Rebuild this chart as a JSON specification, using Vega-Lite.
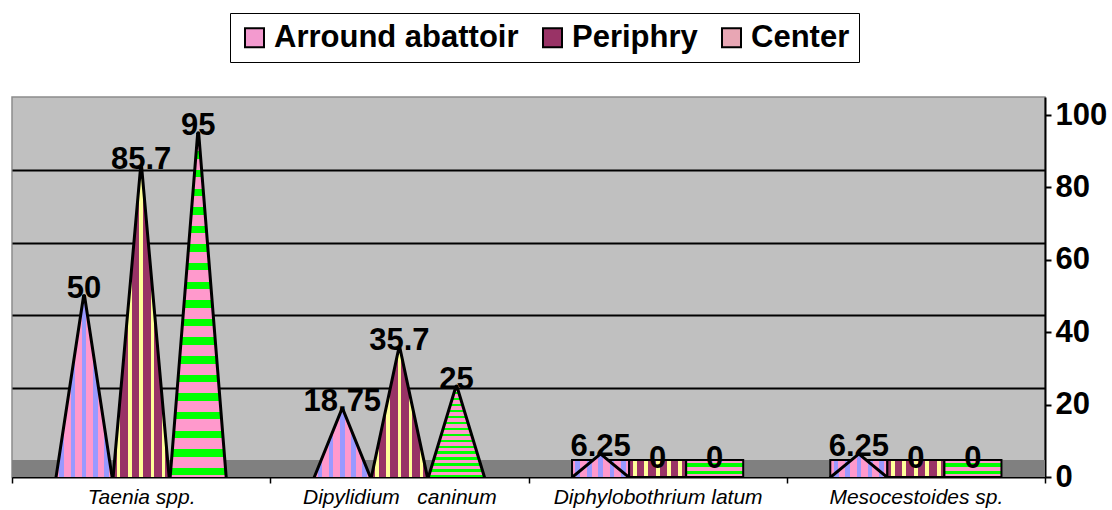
{
  "$schema": "https://vega.github.io/schema/vega-lite/v6.json",
  "width": 1033,
  "height": 380,
  "autosize": "none",
  "padding": {"left": 12, "top": 97, "right": 67, "bottom": 33},
  "background": "white",
  "config": {
    "font": "Liberation Sans",
    "view": {"fill": "#C0C0C0", "stroke": "#8C8C8C", "strokeWidth": 1.5}
  },
  "data": {
    "values": [
      {"parasite": "Taenia spp.", "zone": "Arround abattoir", "pct": 50, "base": 0},
      {"parasite": "Taenia spp.", "zone": "Periphry", "pct": 85.7, "base": 0},
      {"parasite": "Taenia spp.", "zone": "Center", "pct": 95, "base": 0},
      {"parasite": "Dipylidium\u00a0\u00a0\u00a0caninum", "zone": "Arround abattoir", "pct": 18.75, "base": 0},
      {"parasite": "Dipylidium\u00a0\u00a0\u00a0caninum", "zone": "Periphry", "pct": 35.7, "base": 0},
      {"parasite": "Dipylidium\u00a0\u00a0\u00a0caninum", "zone": "Center", "pct": 25, "base": 0},
      {"parasite": "Diphylobothrium latum", "zone": "Arround abattoir", "pct": 6.25, "base": 0},
      {"parasite": "Diphylobothrium latum", "zone": "Periphry", "pct": 0, "base": 0},
      {"parasite": "Diphylobothrium latum", "zone": "Center", "pct": 0, "base": 0},
      {"parasite": "Mesocestoides sp.", "zone": "Arround abattoir", "pct": 6.25, "base": 0},
      {"parasite": "Mesocestoides sp.", "zone": "Periphry", "pct": 0, "base": 0},
      {"parasite": "Mesocestoides sp.", "zone": "Center", "pct": 0, "base": 0}
    ]
  },
  "resolve": {"axis": {"y": "independent"}},
  "layer": [
    {
      "mark": {"type": "rect", "fill": "#808080"},
      "encoding": {
        "y": {
          "datum": 0, "type": "quantitative",
          "scale": {"domain": [0, 105], "nice": false},
          "axis": {"orient": "left", "grid": true, "gridColor": "black", "gridWidth": 2, "values": [20, 40, 60, 80], "labels": false, "ticks": false, "domain": false, "tickOffset": -17, "title": null}
        },
        "y2": {"datum": 4.7}
      }
    },
    {
      "transform": [{"filter": "datum.zone == 'Arround abattoir' && datum.pct < 10"}],
      "mark": {"type": "bar", "stroke": "black", "strokeWidth": 2,
        "fill": {"gradient": "linear", "x1": 0, "y1": 0, "x2": 1, "y2": 0, "stops": [
          {"offset": 0, "color": "#FF99CC"}, {"offset": 0.06, "color": "#FF99CC"}, {"offset": 0.06, "color": "#9999FF"}, {"offset": 0.14, "color": "#9999FF"},
          {"offset": 0.14, "color": "#FF99CC"}, {"offset": 0.26, "color": "#FF99CC"}, {"offset": 0.26, "color": "#9999FF"}, {"offset": 0.34, "color": "#9999FF"},
          {"offset": 0.34, "color": "#FF99CC"}, {"offset": 0.46, "color": "#FF99CC"}, {"offset": 0.46, "color": "#9999FF"}, {"offset": 0.54, "color": "#9999FF"},
          {"offset": 0.54, "color": "#FF99CC"}, {"offset": 0.66, "color": "#FF99CC"}, {"offset": 0.66, "color": "#9999FF"}, {"offset": 0.74, "color": "#9999FF"},
          {"offset": 0.74, "color": "#FF99CC"}, {"offset": 0.86, "color": "#FF99CC"}, {"offset": 0.86, "color": "#9999FF"}, {"offset": 0.94, "color": "#9999FF"},
          {"offset": 0.94, "color": "#FF99CC"}, {"offset": 1, "color": "#FF99CC"}]}},
      "encoding": {
        "x": {"field": "parasite", "type": "nominal"},
        "xOffset": {"field": "zone", "type": "nominal"},
        "y": {"datum": 0, "type": "quantitative", "axis": null},
        "y2": {"datum": 4.7}
      }
    },
    {
      "transform": [{"filter": "datum.zone == 'Periphry' && datum.pct < 10"}],
      "mark": {"type": "bar", "stroke": "black", "strokeWidth": 2,
        "fill": {"gradient": "linear", "x1": 0, "y1": 0, "x2": 1, "y2": 0, "stops": [
          {"offset": 0, "color": "#993366"}, {"offset": 0.065, "color": "#993366"}, {"offset": 0.065, "color": "#FFFF99"}, {"offset": 0.135, "color": "#FFFF99"},
          {"offset": 0.135, "color": "#993366"}, {"offset": 0.265, "color": "#993366"}, {"offset": 0.265, "color": "#FFFF99"}, {"offset": 0.335, "color": "#FFFF99"},
          {"offset": 0.335, "color": "#993366"}, {"offset": 0.465, "color": "#993366"}, {"offset": 0.465, "color": "#FFFF99"}, {"offset": 0.535, "color": "#FFFF99"},
          {"offset": 0.535, "color": "#993366"}, {"offset": 0.665, "color": "#993366"}, {"offset": 0.665, "color": "#FFFF99"}, {"offset": 0.735, "color": "#FFFF99"},
          {"offset": 0.735, "color": "#993366"}, {"offset": 0.865, "color": "#993366"}, {"offset": 0.865, "color": "#FFFF99"}, {"offset": 0.935, "color": "#FFFF99"},
          {"offset": 0.935, "color": "#993366"}, {"offset": 1, "color": "#993366"}]}},
      "encoding": {
        "x": {"field": "parasite", "type": "nominal"},
        "xOffset": {"field": "zone", "type": "nominal"},
        "y": {"datum": 0, "type": "quantitative", "axis": null},
        "y2": {"datum": 4.7}
      }
    },
    {
      "transform": [{"filter": "datum.zone == 'Center' && datum.pct < 10"}],
      "mark": {"type": "bar", "stroke": "black", "strokeWidth": 2,
        "fill": {"gradient": "linear", "x1": 0, "y1": 0, "x2": 0, "y2": 1, "stops": [
          {"offset": 0, "color": "#FF99CC"}, {"offset": 0.2, "color": "#FF99CC"}, {"offset": 0.2, "color": "#00FF00"}, {"offset": 0.4, "color": "#00FF00"},
          {"offset": 0.4, "color": "#FF99CC"}, {"offset": 0.65, "color": "#FF99CC"}, {"offset": 0.65, "color": "#00FF00"}, {"offset": 0.85, "color": "#00FF00"},
          {"offset": 0.85, "color": "#FF99CC"}, {"offset": 1, "color": "#FF99CC"}]}},
      "encoding": {
        "x": {"field": "parasite", "type": "nominal"},
        "xOffset": {"field": "zone", "type": "nominal"},
        "y": {"datum": 0, "type": "quantitative", "axis": null},
        "y2": {"datum": 4.7}
      }
    },
    {
      "transform": [
        {"filter": "datum.zone == 'Arround abattoir' && datum.pct > 0"},
        {"fold": ["base", "pct"], "as": ["end", "val"]}
      ],
      "mark": {"type": "trail", "stroke": "black", "strokeWidth": 3, "clip": true, "strokeJoin": "miter",
        "fill": {"gradient": "linear", "x1": 0, "y1": 0, "x2": 1, "y2": 0, "stops": [
          {"offset": 0, "color": "#FF99CC"}, {"offset": 0.06, "color": "#FF99CC"}, {"offset": 0.06, "color": "#9999FF"}, {"offset": 0.14, "color": "#9999FF"},
          {"offset": 0.14, "color": "#FF99CC"}, {"offset": 0.26, "color": "#FF99CC"}, {"offset": 0.26, "color": "#9999FF"}, {"offset": 0.34, "color": "#9999FF"},
          {"offset": 0.34, "color": "#FF99CC"}, {"offset": 0.46, "color": "#FF99CC"}, {"offset": 0.46, "color": "#9999FF"}, {"offset": 0.54, "color": "#9999FF"},
          {"offset": 0.54, "color": "#FF99CC"}, {"offset": 0.66, "color": "#FF99CC"}, {"offset": 0.66, "color": "#9999FF"}, {"offset": 0.74, "color": "#9999FF"},
          {"offset": 0.74, "color": "#FF99CC"}, {"offset": 0.86, "color": "#FF99CC"}, {"offset": 0.86, "color": "#9999FF"}, {"offset": 0.94, "color": "#9999FF"},
          {"offset": 0.94, "color": "#FF99CC"}, {"offset": 1, "color": "#FF99CC"}]}},
      "encoding": {
        "x": {
          "field": "parasite", "type": "nominal",
          "scale": {"domain": ["Taenia spp.", "Dipylidium\u00a0\u00a0\u00a0caninum", "Diphylobothrium latum", "Mesocestoides sp."], "paddingInner": 0, "paddingOuter": 0},
          "axis": {"title": null, "labelAngle": 0, "labelAlign": "center", "labelLimit": 400, "labelFont": "Liberation Sans", "labelFontStyle": "italic", "labelFontSize": 21, "labelColor": "black", "domainColor": "black", "domainWidth": 2, "tickColor": "black", "tickWidth": 1.5, "tickSize": 6, "tickBand": "extent", "labelPadding": 14}
        },
        "xOffset": {
          "field": "zone", "type": "nominal",
          "scale": {"domain": ["Arround abattoir", "Periphry", "Center"], "paddingInner": 0, "paddingOuter": 0.763}
        },
        "y": {
          "field": "val", "type": "quantitative",
          "axis": {"orient": "right", "values": [0, 20, 40, 60, 80, 100], "grid": false, "title": null, "labelFontSize": 31, "labelFontWeight": "bold", "labelColor": "black", "tickColor": "black", "tickWidth": 2, "tickSize": 6, "domainColor": "black", "domainWidth": 2, "labelPadding": 4}
        },
        "size": {"field": "end", "type": "ordinal", "scale": {"domain": ["pct", "base"], "range": [0, 56]}, "legend": null},
        "detail": {"field": "parasite"},
        "order": {"field": "end"}
      }
    },
    {
      "transform": [
        {"filter": "datum.zone == 'Periphry' && datum.pct > 0"},
        {"fold": ["base", "pct"], "as": ["end", "val"]}
      ],
      "mark": {"type": "trail", "stroke": "black", "strokeWidth": 3, "clip": true, "strokeJoin": "miter",
        "fill": {"gradient": "linear", "x1": 0, "y1": 0, "x2": 1, "y2": 0, "stops": [
          {"offset": 0, "color": "#993366"}, {"offset": 0.07, "color": "#993366"}, {"offset": 0.07, "color": "#FFFF99"}, {"offset": 0.13, "color": "#FFFF99"},
          {"offset": 0.13, "color": "#993366"}, {"offset": 0.27, "color": "#993366"}, {"offset": 0.27, "color": "#FFFF99"}, {"offset": 0.33, "color": "#FFFF99"},
          {"offset": 0.33, "color": "#993366"}, {"offset": 0.47, "color": "#993366"}, {"offset": 0.47, "color": "#FFFF99"}, {"offset": 0.53, "color": "#FFFF99"},
          {"offset": 0.53, "color": "#993366"}, {"offset": 0.67, "color": "#993366"}, {"offset": 0.67, "color": "#FFFF99"}, {"offset": 0.73, "color": "#FFFF99"},
          {"offset": 0.73, "color": "#993366"}, {"offset": 0.87, "color": "#993366"}, {"offset": 0.87, "color": "#FFFF99"}, {"offset": 0.93, "color": "#FFFF99"},
          {"offset": 0.93, "color": "#993366"}, {"offset": 1, "color": "#993366"}]}},
      "encoding": {
        "x": {"field": "parasite", "type": "nominal"},
        "xOffset": {"field": "zone", "type": "nominal"},
        "y": {"field": "val", "type": "quantitative", "axis": null},
        "size": {"field": "end", "type": "ordinal", "legend": null},
        "detail": {"field": "parasite"},
        "order": {"field": "end"}
      }
    },
    {
      "transform": [
        {"filter": "datum.zone == 'Center' && datum.pct > 0"},
        {"fold": ["base", "pct"], "as": ["end", "val"]}
      ],
      "mark": {"type": "trail", "stroke": "black", "strokeWidth": 3, "clip": true, "strokeJoin": "miter",
        "fill": {"gradient": "linear", "x1": 0, "y1": 0, "x2": 0, "y2": 1, "stops": [
          {"offset": 0, "color": "#00FF00"}, {"offset": 0.02, "color": "#00FF00"}, {"offset": 0.02, "color": "#FF99CC"}, {"offset": 0.05, "color": "#FF99CC"},
          {"offset": 0.05, "color": "#00FF00"}, {"offset": 0.07, "color": "#00FF00"}, {"offset": 0.07, "color": "#FF99CC"}, {"offset": 0.1, "color": "#FF99CC"},
          {"offset": 0.1, "color": "#00FF00"}, {"offset": 0.12, "color": "#00FF00"}, {"offset": 0.12, "color": "#FF99CC"}, {"offset": 0.15, "color": "#FF99CC"},
          {"offset": 0.15, "color": "#00FF00"}, {"offset": 0.17, "color": "#00FF00"}, {"offset": 0.17, "color": "#FF99CC"}, {"offset": 0.2, "color": "#FF99CC"},
          {"offset": 0.2, "color": "#00FF00"}, {"offset": 0.22, "color": "#00FF00"}, {"offset": 0.22, "color": "#FF99CC"}, {"offset": 0.25, "color": "#FF99CC"},
          {"offset": 0.25, "color": "#00FF00"}, {"offset": 0.27, "color": "#00FF00"}, {"offset": 0.27, "color": "#FF99CC"}, {"offset": 0.3, "color": "#FF99CC"},
          {"offset": 0.3, "color": "#00FF00"}, {"offset": 0.32, "color": "#00FF00"}, {"offset": 0.32, "color": "#FF99CC"}, {"offset": 0.35, "color": "#FF99CC"},
          {"offset": 0.35, "color": "#00FF00"}, {"offset": 0.37, "color": "#00FF00"}, {"offset": 0.37, "color": "#FF99CC"}, {"offset": 0.4, "color": "#FF99CC"},
          {"offset": 0.4, "color": "#00FF00"}, {"offset": 0.42, "color": "#00FF00"}, {"offset": 0.42, "color": "#FF99CC"}, {"offset": 0.45, "color": "#FF99CC"},
          {"offset": 0.45, "color": "#00FF00"}, {"offset": 0.47, "color": "#00FF00"}, {"offset": 0.47, "color": "#FF99CC"}, {"offset": 0.5, "color": "#FF99CC"},
          {"offset": 0.5, "color": "#00FF00"}, {"offset": 0.52, "color": "#00FF00"}, {"offset": 0.52, "color": "#FF99CC"}, {"offset": 0.55, "color": "#FF99CC"},
          {"offset": 0.55, "color": "#00FF00"}, {"offset": 0.57, "color": "#00FF00"}, {"offset": 0.57, "color": "#FF99CC"}, {"offset": 0.6, "color": "#FF99CC"},
          {"offset": 0.6, "color": "#00FF00"}, {"offset": 0.62, "color": "#00FF00"}, {"offset": 0.62, "color": "#FF99CC"}, {"offset": 0.65, "color": "#FF99CC"},
          {"offset": 0.65, "color": "#00FF00"}, {"offset": 0.67, "color": "#00FF00"}, {"offset": 0.67, "color": "#FF99CC"}, {"offset": 0.7, "color": "#FF99CC"},
          {"offset": 0.7, "color": "#00FF00"}, {"offset": 0.72, "color": "#00FF00"}, {"offset": 0.72, "color": "#FF99CC"}, {"offset": 0.75, "color": "#FF99CC"},
          {"offset": 0.75, "color": "#00FF00"}, {"offset": 0.77, "color": "#00FF00"}, {"offset": 0.77, "color": "#FF99CC"}, {"offset": 0.8, "color": "#FF99CC"},
          {"offset": 0.8, "color": "#00FF00"}, {"offset": 0.82, "color": "#00FF00"}, {"offset": 0.82, "color": "#FF99CC"}, {"offset": 0.85, "color": "#FF99CC"},
          {"offset": 0.85, "color": "#00FF00"}, {"offset": 0.87, "color": "#00FF00"}, {"offset": 0.87, "color": "#FF99CC"}, {"offset": 0.9, "color": "#FF99CC"},
          {"offset": 0.9, "color": "#00FF00"}, {"offset": 0.92, "color": "#00FF00"}, {"offset": 0.92, "color": "#FF99CC"}, {"offset": 0.95, "color": "#FF99CC"},
          {"offset": 0.95, "color": "#00FF00"}, {"offset": 0.97, "color": "#00FF00"}, {"offset": 0.97, "color": "#FF99CC"}, {"offset": 1, "color": "#FF99CC"}]}},
      "encoding": {
        "x": {"field": "parasite", "type": "nominal"},
        "xOffset": {"field": "zone", "type": "nominal"},
        "y": {"field": "val", "type": "quantitative", "axis": null},
        "size": {"field": "end", "type": "ordinal", "legend": null},
        "detail": {"field": "parasite"},
        "order": {"field": "end"}
      }
    },
    {
      "mark": {"type": "square", "opacity": 0},
      "encoding": {
        "x": {"field": "parasite", "type": "nominal"},
        "xOffset": {"field": "zone", "type": "nominal"},
        "y": {"field": "pct", "type": "quantitative", "axis": null},
        "color": {
          "field": "zone", "type": "nominal",
          "scale": {"domain": ["Arround abattoir", "Periphry", "Center"], "range": ["#F39ACF", "#993366", "#E8A6B4"]},
          "legend": {
            "orient": "none", "legendX": 218, "legendY": -84, "direction": "horizontal", "title": null,
            "strokeColor": "black", "padding": 9,
            "labelFont": "Liberation Sans", "labelFontSize": 31, "labelFontWeight": "bold", "labelColor": "black", "labelLimit": 400,
            "symbolType": "square", "symbolSize": 361, "symbolStrokeColor": "black", "symbolStrokeWidth": 2, "symbolOpacity": 1,
            "labelOffset": 4, "columnPadding": 18
          }
        }
      }
    },
    {
      "transform": [{"filter": "datum.pct > 0"}],
      "mark": {"type": "text", "font": "Liberation Sans", "fontSize": 31, "fontWeight": "bold", "color": "black", "baseline": "alphabetic", "dy": 2},
      "encoding": {
        "x": {"field": "parasite", "type": "nominal"},
        "xOffset": {"field": "zone", "type": "nominal"},
        "y": {"field": "pct", "type": "quantitative", "axis": null},
        "text": {"field": "pct", "type": "quantitative"}
      }
    },
    {
      "transform": [{"filter": "datum.pct == 0"}],
      "mark": {"type": "text", "font": "Liberation Sans", "fontSize": 31, "fontWeight": "bold", "color": "black", "baseline": "alphabetic", "dy": -9},
      "encoding": {
        "x": {"field": "parasite", "type": "nominal"},
        "xOffset": {"field": "zone", "type": "nominal"},
        "y": {"field": "pct", "type": "quantitative", "axis": null},
        "text": {"field": "pct", "type": "quantitative"}
      }
    }
  ]
}
